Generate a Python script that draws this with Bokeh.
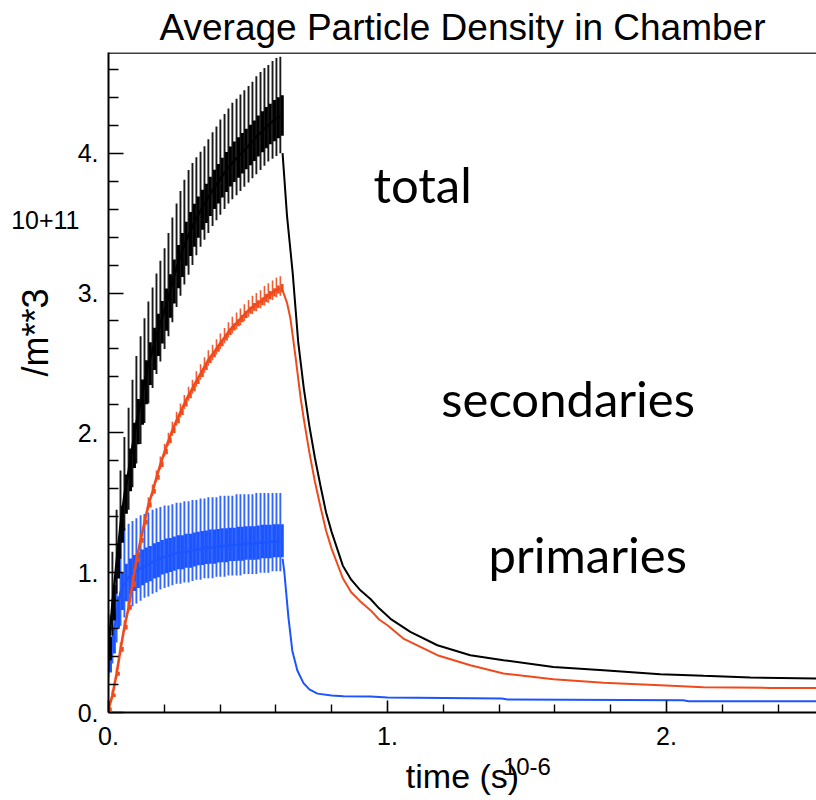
import numpy as np
from bokeh.plotting import figure
from bokeh.models import (Range1d, FixedTicker, CustomJSTickFormatter, Label, Span,
                          LinearAxis)
from bokeh.embed import file_html
from bokeh.resources import INLINE

# ---------------- data (time in 1e-6 s, density in 1e11 /m**3) ----------------
pulse_t = [0.000, 0.014, 0.029, 0.043, 0.057, 0.072, 0.086, 0.100, 0.115, 0.129,
           0.143, 0.158, 0.172, 0.186, 0.201, 0.215, 0.229, 0.244, 0.258, 0.272,
           0.287, 0.301, 0.315, 0.330, 0.344, 0.358, 0.373, 0.387, 0.401, 0.416,
           0.430, 0.444, 0.459, 0.473, 0.487, 0.502, 0.516, 0.530, 0.545, 0.559,
           0.573, 0.588, 0.602, 0.616]

total_hi = [0.70, 1.15, 1.45, 1.73, 1.97, 2.18, 2.38, 2.55, 2.69, 2.82,
            2.94, 3.04, 3.14, 3.23, 3.32, 3.43, 3.54, 3.64, 3.73, 3.81,
            3.88, 3.93, 3.97, 4.01, 4.05, 4.10, 4.15, 4.19, 4.24, 4.28,
            4.32, 4.36, 4.39, 4.42, 4.45, 4.48, 4.51, 4.55, 4.58, 4.61,
            4.63, 4.66, 4.68, 4.69]
total_lo = [0.30, 0.55, 0.85, 1.10, 1.30, 1.45, 1.61, 1.78, 1.92, 2.07,
            2.21, 2.32, 2.42, 2.51, 2.60, 2.69, 2.79, 2.90, 2.98, 3.06,
            3.13, 3.20, 3.27, 3.33, 3.38, 3.43, 3.48, 3.52, 3.56, 3.60,
            3.64, 3.67, 3.70, 3.73, 3.76, 3.79, 3.82, 3.85, 3.88, 3.91,
            3.94, 3.96, 3.98, 4.00]

sec_hi = [0.06, 0.16, 0.32, 0.50, 0.66, 0.80, 0.98, 1.14, 1.28, 1.41,
          1.54, 1.63, 1.73, 1.83, 1.92, 2.00, 2.08, 2.15, 2.21, 2.27,
          2.33, 2.38, 2.44, 2.49, 2.54, 2.59, 2.63, 2.67, 2.71, 2.75,
          2.79, 2.83, 2.86, 2.89, 2.92, 2.95, 2.98, 3.00, 3.02, 3.05,
          3.07, 3.09, 3.11, 3.12]
sec_lo = [0.00, 0.10, 0.25, 0.42, 0.58, 0.72, 0.88, 1.06, 1.20, 1.33,
          1.45, 1.55, 1.65, 1.74, 1.83, 1.91, 1.98, 2.05, 2.11, 2.17,
          2.23, 2.28, 2.33, 2.38, 2.43, 2.48, 2.52, 2.56, 2.60, 2.64,
          2.68, 2.71, 2.74, 2.77, 2.80, 2.83, 2.85, 2.87, 2.89, 2.91,
          2.93, 2.95, 2.97, 2.98]

prim_hi = [0.45, 0.75, 1.05, 1.25, 1.32, 1.35, 1.37, 1.39, 1.41, 1.42,
           1.43, 1.45, 1.46, 1.47, 1.48, 1.48, 1.49, 1.50, 1.50, 1.51,
           1.51, 1.52, 1.52, 1.53, 1.53, 1.54, 1.54, 1.54, 1.55, 1.55,
           1.55, 1.55, 1.56, 1.56, 1.56, 1.56, 1.56, 1.57, 1.57, 1.57,
           1.57, 1.57, 1.57, 1.57]
prim_lo = [0.25, 0.35, 0.50, 0.62, 0.68, 0.73, 0.76, 0.78, 0.80, 0.82,
           0.83, 0.85, 0.86, 0.88, 0.89, 0.90, 0.91, 0.92, 0.92, 0.93,
           0.93, 0.94, 0.95, 0.95, 0.96, 0.96, 0.96, 0.97, 0.97, 0.97,
           0.98, 0.98, 0.98, 0.98, 0.99, 0.99, 0.99, 0.99, 1.00, 1.00,
           1.00, 1.01, 1.01, 1.01]

total_decay_t = [0.624, 0.64, 0.66, 0.68, 0.70, 0.72, 0.74, 0.76, 0.78, 0.80,
                 0.84, 0.87, 0.90, 0.94, 0.97, 1.011, 1.082, 1.179, 1.297, 1.416,
                 1.595, 1.774, 1.978, 2.133, 2.301, 2.54]
total_decay_y = [4.00, 3.55, 3.15, 2.65, 2.32, 2.05, 1.82, 1.62, 1.43, 1.29,
                 1.05, 0.95, 0.88, 0.81, 0.745, 0.67, 0.576, 0.481, 0.41, 0.374,
                 0.326, 0.302, 0.274, 0.262, 0.25, 0.243]

sec_decay_t = [0.624, 0.64, 0.652, 0.67, 0.688, 0.70, 0.72, 0.74, 0.76, 0.78,
               0.80, 0.84, 0.87, 0.90, 0.94, 0.97, 1.00, 1.057, 1.179, 1.297,
               1.416, 1.595, 1.774, 1.978, 2.133, 2.373, 2.54]
sec_decay_y = [3.02, 2.93, 2.82, 2.55, 2.26, 2.10, 1.86, 1.65, 1.47, 1.30,
               1.17, 0.96, 0.86, 0.80, 0.73, 0.665, 0.624, 0.529, 0.41, 0.338,
               0.279, 0.238, 0.212, 0.195, 0.181, 0.176, 0.175]

prim_decay_t = [0.624, 0.63, 0.645, 0.659, 0.677, 0.699, 0.72, 0.749, 0.80, 0.842,
                0.94, 1.00, 1.41, 1.43, 2.06, 2.08, 2.54]
prim_decay_y = [1.10, 1.01, 0.68, 0.44, 0.30, 0.21, 0.165, 0.135, 0.122, 0.117,
                0.114, 0.107, 0.100, 0.093, 0.088, 0.081, 0.081]

x_major = [0, 1, 2]
x_minor = [0.2, 0.4, 0.6, 0.8, 1.2, 1.4, 1.6, 1.8, 2.2, 2.4]
y_major = [0, 1, 2, 3, 4]
y_minor = [0.2, 0.4, 0.6, 0.8, 1.2, 1.4, 1.6, 1.8, 2.2, 2.4, 2.6, 2.8,
           3.2, 3.4, 3.6, 3.8, 4.2, 4.4, 4.6]

y_scale_text = "10+11"     # y multiplier
x_scale_text = "10-6"      # x multiplier
y_scale_pos = [3.52]
x_scale_pos = [1.5]

X_MAX = 2.538
Y_MAX = 4.72

BLACK = "#000000"
RED = "#F04A1C"
BLUE = "#1C55FF"
AXFONT = "Liberation Sans"

p = figure(width=816, height=800, x_range=Range1d(0, X_MAX), y_range=Range1d(0, Y_MAX),
           output_backend="svg", toolbar_location=None,
           min_border_left=108, min_border_right=0, min_border_top=51, min_border_bottom=88)
p.xgrid.visible = False
p.ygrid.visible = False
p.outline_line_color = None
p.background_fill_color = "white"
p.border_fill_color = "white"

# title
p.title.text = "Average Particle Density in Chamber"
p.title.align = "center"
p.title.text_font = AXFONT
p.title.text_font_size = "37px"
p.title.text_font_style = "normal"
p.title.text_color = BLACK
p.title.standoff = 9

# ---------------- pulse trains ----------------
t = np.array(pulse_t)
half = (t[1] - t[0]) / 2.0


def draw_train(hi, lo, color, spike_w, band_w, line_w):
    hi = np.array(hi)
    lo = np.array(lo)
    rng = hi - lo
    b_lo = lo + 0.18 * rng
    b_hi = lo + 0.60 * rng
    mid = lo + 0.38 * rng
    p.segment(x0=t, y0=lo, x1=t, y1=hi, line_color=color, line_width=spike_w, line_alpha=0.9)
    p.segment(x0=t + half, y0=b_lo, x1=t + half, y1=b_hi, line_color=color, line_width=band_w)
    p.line(x=t, y=mid, line_color=color, line_width=line_w)


draw_train(prim_hi, prim_lo, BLUE, 1.9, 3.0, 2.4)
draw_train(sec_hi, sec_lo, RED, 1.6, 2.6, 2.6)
draw_train(total_hi, total_lo, BLACK, 1.9, 3.0, 2.4)

p.line(prim_decay_t, prim_decay_y, line_color=BLUE, line_width=2)
p.line(sec_decay_t, sec_decay_y, line_color=RED, line_width=2)
p.line(total_decay_t, total_decay_y, line_color=BLACK, line_width=2)

# ---------------- axes ----------------
for ax, maj, mnr, tin, min_in in ((p.xaxis[0], x_major, x_minor, 12, 8),
                                   (p.yaxis[0], y_major, y_minor, 15, 10)):
    ax.ticker = FixedTicker(ticks=maj, minor_ticks=mnr)
    ax.formatter = CustomJSTickFormatter(code="return tick.toFixed(0) + '.';")
    ax.major_tick_in = tin
    ax.major_tick_out = 0
    ax.minor_tick_in = min_in
    ax.minor_tick_out = 0
    ax.axis_line_width = 2
    ax.axis_line_color = BLACK
    ax.major_tick_line_width = 1.6
    ax.minor_tick_line_width = 1.4
    ax.major_tick_line_color = BLACK
    ax.minor_tick_line_color = BLACK
    ax.major_label_text_font = AXFONT
    ax.major_label_text_font_size = "25px"
    ax.major_label_text_color = BLACK

p.xaxis.major_label_standoff = 14
p.yaxis.major_label_standoff = 10


def text_axis(pos, text, tsize, label, label_size, standoff, label_standoff):
    ax = LinearAxis(ticker=FixedTicker(ticks=pos, minor_ticks=[]),
                    formatter=CustomJSTickFormatter(code="return '%s';" % text),
                    axis_line_color=None, major_tick_line_color=None,
                    minor_tick_line_color=None, major_tick_in=0, major_tick_out=0,
                    minor_tick_in=0, minor_tick_out=0,
                    major_label_standoff=standoff,
                    major_label_text_font=AXFONT, major_label_text_font_size=tsize,
                    major_label_text_color=BLACK,
                    axis_label=label, axis_label_standoff=label_standoff,
                    axis_label_text_font=AXFONT, axis_label_text_font_size=label_size,
                    axis_label_text_font_style="normal", axis_label_text_color=BLACK)
    return ax


p.add_layout(text_axis(y_scale_pos, y_scale_text, "25px", "\u00a0" * 10 + "/m**3", "36px",
                       -5, -48), "left")
p.add_layout(text_axis(x_scale_pos, x_scale_text, "24px", "time (s)", "34px", 10, -21), "below")

p.add_layout(Span(location=Y_MAX - 0.004, dimension="width", line_color=BLACK, line_width=1.5))

# ---------------- in-plot texts ----------------
def lab(x, y, text):
    p.add_layout(Label(x=x, y=y, text=text, text_font="Lato", text_font_size="49px",
                       text_align="left", text_baseline="alphabetic", text_color=BLACK))


lab(0.950, 3.78, "total")
lab(1.193, 2.25, "secondaries")
lab(1.362, 1.13, "primaries")

open("out.html", "w").write(file_html(p, INLINE))
